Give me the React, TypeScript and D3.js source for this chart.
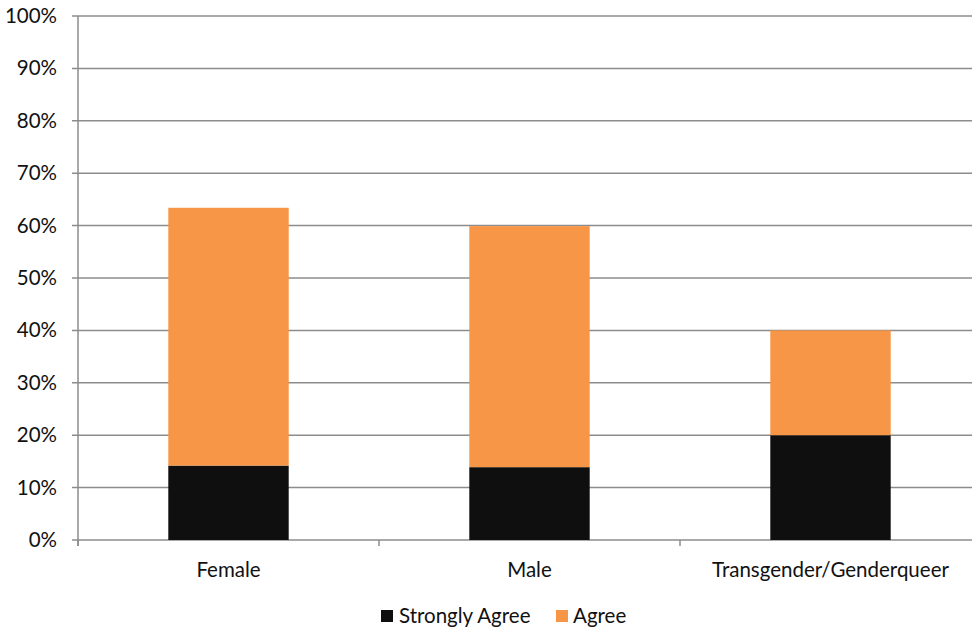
import React from "react";
import * as d3 from "d3";

const categories = ["Female", "Male", "Transgender/Genderqueer"];
const seriesNames = ["Strongly Agree", "Agree"];
const stronglyAgree = [14.2, 13.9, 20.0];
const agree = [49.2, 46.0, 20.0];
const yTicks = [0, 10, 20, 30, 40, 50, 60, 70, 80, 90, 100];
const colors = ["#0f0f0f", "#f79646"];

const W = 972;
const H = 631;
const left = 78;
const top = 16;
const bottom = 540;
const bandW = 301;
const font = "Lato, 'Open Sans', sans-serif";
const fs = 20.5;

export default function App() {
  const x = d3
    .scaleBand<string>()
    .domain(categories)
    .range([left, left + bandW * categories.length])
    .paddingInner(0.6)
    .paddingOuter(0.3);
  const y = d3.scaleLinear().domain([0, 100]).range([bottom, top]);

  const rows = categories.map((c, i) => ({ cat: c, sa: stronglyAgree[i], ag: agree[i] }));
  const stack = d3.stack<any>().keys(["sa", "ag"])(rows);
  const boundaries = d3.range(categories.length + 1).map((i) => left + i * bandW);

  return (
    <svg width={W} height={H} style={{ position: "absolute", left: 0, top: 0, background: "#fff" }}>
      {yTicks.map((t) => (
        <g key={t}>
          <line x1={left - 6} x2={W} y1={y(t)} y2={y(t)} stroke="#8c8c8c" strokeWidth={1.5} />
          <text x={57} y={y(t) + 7} textAnchor="end" fontFamily={font} fontSize={fs} fill="#111">
            {t}%
          </text>
        </g>
      ))}
      <line x1={left} x2={left} y1={top} y2={bottom + 6} stroke="#8c8c8c" strokeWidth={1.5} />
      {boundaries.map((b, i) => (
        <line key={i} x1={b} x2={b} y1={bottom} y2={bottom + 6} stroke="#8c8c8c" strokeWidth={1.5} />
      ))}
      {stack.map((s, si) =>
        s.map((d, i) => (
          <rect
            key={si + "-" + i}
            x={x(categories[i])}
            width={x.bandwidth()}
            y={y(d[1])}
            height={y(d[0]) - y(d[1])}
            fill={colors[si]}
          />
        ))
      )}
      {categories.map((c) => (
        <text key={c} x={(x(c) as number) + x.bandwidth() / 2} y={577} textAnchor="middle" fontFamily={font} fontSize={fs} fill="#111">
          {c}
        </text>
      ))}
      <g>
        <rect x={381} y={610} width={12} height={12} fill={colors[0]} />
        <text x={399} y={623} fontFamily={font} fontSize={fs} fill="#111">{seriesNames[0]}</text>
        <rect x={556} y={610} width={12} height={12} fill={colors[1]} />
        <text x={573} y={623} fontFamily={font} fontSize={fs} fill="#111">{seriesNames[1]}</text>
      </g>
    </svg>
  );
}
